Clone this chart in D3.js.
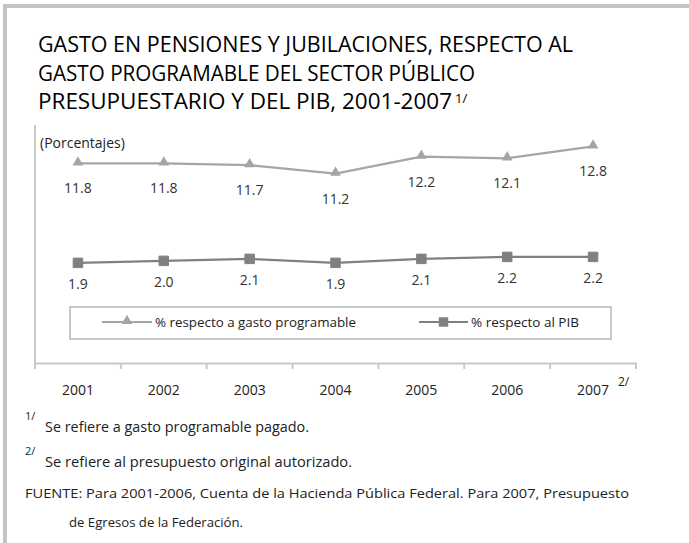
<!DOCTYPE html>
<html>
<head>
<meta charset="utf-8">
<script src="https://cdn.jsdelivr.net/npm/d3@7"></script>
<style>
  html, body { margin: 0; padding: 0; background: #fff; }
  svg { display: block; font-family: 'Open Sans', 'Noto Sans', sans-serif; }
</style>
</head>
<body>
<svg id="chart" width="689" height="543"></svg>
<script>
const years = ['2001', '2002', '2003', '2004', '2005', '2006', '2007'];
const gastoProgramable = [11.8, 11.8, 11.7, 11.2, 12.2, 12.1, 12.8];
const respectoPib = [1.9, 2.0, 2.1, 1.9, 2.1, 2.2, 2.2];
const seriesNames = ['% respecto a gasto programable', '% respecto al PIB'];

const titleLines = [
  'GASTO EN PENSIONES Y JUBILACIONES, RESPECTO AL',
  'GASTO PROGRAMABLE DEL SECTOR PÚBLICO',
  'PRESUPUESTARIO Y DEL PIB, 2001-2007'
];
const notes = [
  { mark: '1/', text: 'Se refiere a gasto programable pagado.' },
  { mark: '2/', text: 'Se refiere al presupuesto original autorizado.' }
];
const source = [
  'FUENTE: Para 2001-2006, Cuenta de la Hacienda Pública Federal. Para 2007, Presupuesto',
  'de Egresos de la Federación.'
];

const svg = d3.select('#chart');

// frame: grey rule on top and left
svg.append('rect').attr('x', 3).attr('y', 4).attr('width', 686).attr('height', 4).attr('fill', '#c3c3c3');
svg.append('rect').attr('x', 3).attr('y', 4).attr('width', 4).attr('height', 539).attr('fill', '#c3c3c3');

// title (condensed face in the original, so squeeze each line to its width)
const titleWidths = [535, 437, 414];
svg.append('g').selectAll('text')
  .data(titleLines)
  .join('text')
  .attr('x', 38)
  .attr('y', (d, i) => 52 + i * 28.7)
  .attr('textLength', (d, i) => titleWidths[i])
  .attr('lengthAdjust', 'spacingAndGlyphs')
  .style('font-size', '21px')
  .style('fill', '#000')
  .text(d => d);
svg.append('text')
  .attr('x', 38 + titleWidths[2] + 3)
  .attr('y', 103)
  .style('font-size', '13px')
  .style('fill', '#000')
  .text('1/');

// scales: the two series sit on separate value axes
const x = d3.scaleBand().domain(years).range([35, 636]);
const cx = d => x(d) + x.bandwidth() / 2;
const yLeft = d3.scaleLinear().domain([0, 14]).range([364, 126]);
const yRight = d3.scaleLinear().domain([-3.2, 8.8]).range([364, 126]);

const axisColor = '#c8c8c8';

// axes
svg.append('line')
  .attr('x1', 35).attr('x2', 35).attr('y1', 125).attr('y2', 364)
  .attr('stroke', axisColor).attr('stroke-width', 2);

const xAxis = svg.append('g')
  .attr('transform', 'translate(0,363)')
  .call(d3.axisBottom(x).tickSize(0).tickFormat(''));
xAxis.select('.domain').attr('stroke', axisColor).attr('stroke-width', 2);
xAxis.selectAll('.tick').remove();
const edges = years.map(d => x(d)).concat([x.range()[1]]);
xAxis.selectAll('line.bnd')
  .data(edges)
  .join('line')
  .attr('class', 'bnd')
  .attr('x1', d => d).attr('x2', d => d)
  .attr('y1', 0).attr('y2', 6)
  .attr('stroke', axisColor).attr('stroke-width', 2);

svg.append('g').selectAll('text')
  .data(years)
  .join('text')
  .attr('x', d => cx(d))
  .attr('y', 395)
  .attr('text-anchor', 'middle')
  .style('font-size', '14px')
  .style('fill', '#222')
  .text(d => d);
svg.append('text')
  .attr('x', 618).attr('y', 386)
  .style('font-size', '12px').style('fill', '#222')
  .text('2/');

svg.append('text')
  .attr('x', 40).attr('y', 148)
  .style('font-size', '14px').style('fill', '#222')
  .text('(Porcentajes)');

// series
const triColor = '#a5a5a5';
const sqColor = '#808080';
const tri = d3.symbol().type(d3.symbolTriangle).size(50);
const sq = d3.symbol().type(d3.symbolSquare).size(90);

const gastoData = years.map((d, i) => ({ year: d, v: gastoProgramable[i] }));
const pibData = years.map((d, i) => ({ year: d, v: respectoPib[i] }));

svg.append('path')
  .datum(gastoData)
  .attr('fill', 'none').attr('stroke', triColor).attr('stroke-width', 2.2)
  .attr('d', d3.line().x(d => cx(d.year)).y(d => yLeft(d.v)));
svg.append('g').selectAll('path')
  .data(gastoData)
  .join('path')
  .attr('transform', d => `translate(${cx(d.year)},${yLeft(d.v) - 1})`)
  .attr('d', tri)
  .attr('fill', triColor);
svg.append('g').selectAll('text')
  .data(gastoData)
  .join('text')
  .attr('x', d => cx(d.year))
  .attr('y', d => yLeft(d.v) + 30)
  .attr('text-anchor', 'middle')
  .style('font-size', '14px')
  .style('fill', '#333')
  .text(d => d.v.toFixed(1));

svg.append('path')
  .datum(pibData)
  .attr('fill', 'none').attr('stroke', sqColor).attr('stroke-width', 2.2)
  .attr('d', d3.line().x(d => cx(d.year)).y(d => yRight(d.v)));
svg.append('g').selectAll('path')
  .data(pibData)
  .join('path')
  .attr('transform', d => `translate(${cx(d.year)},${yRight(d.v)})`)
  .attr('d', sq)
  .attr('fill', sqColor)
  .attr('stroke', sqColor).attr('stroke-width', 1).attr('stroke-linejoin', 'round');
svg.append('g').selectAll('text')
  .data(pibData)
  .join('text')
  .attr('x', d => cx(d.year))
  .attr('y', d => yRight(d.v) + 26)
  .attr('text-anchor', 'middle')
  .style('font-size', '14px')
  .style('fill', '#333')
  .text(d => d.v.toFixed(1));

// legend
svg.append('rect')
  .attr('x', 70).attr('y', 307).attr('width', 541).attr('height', 32)
  .attr('fill', '#fff').attr('stroke', axisColor).attr('stroke-width', 2);
const legendItems = [
  { name: seriesNames[0], x0: 102, x1: 152, w: 201, color: triColor, sym: tri, dy: -1 },
  { name: seriesNames[1], x0: 419, x1: 468, w: 108, color: sqColor, sym: sq, dy: 0 }
];
const leg = svg.append('g').selectAll('g')
  .data(legendItems)
  .join('g');
leg.append('line')
  .attr('x1', d => d.x0).attr('x2', d => d.x1)
  .attr('y1', 322).attr('y2', 322)
  .attr('stroke', d => d.color).attr('stroke-width', 2.2);
leg.append('path')
  .attr('transform', d => `translate(${(d.x0 + d.x1) / 2},${322 + d.dy})`)
  .attr('d', d => d.sym())
  .attr('fill', d => d.color);
leg.append('text')
  .attr('x', d => d.x1 + 3)
  .attr('y', 327)
  .attr('textLength', d => d.w)
  .attr('lengthAdjust', 'spacingAndGlyphs')
  .style('font-size', '13px')
  .style('fill', '#222')
  .text(d => d.name);

// notes
const noteWidths = [264, 307];
const notesG = svg.append('g');
notes.forEach((n, i) => {
  const base = 432 + i * 35;
  notesG.append('text')
    .attr('x', 25).attr('y', base - 12)
    .style('font-size', '11px').style('fill', '#222')
    .text(n.mark);
  notesG.append('text')
    .attr('x', 45).attr('y', base)
    .attr('textLength', noteWidths[i])
    .attr('lengthAdjust', 'spacingAndGlyphs')
    .style('font-size', '14px').style('fill', '#222')
    .text(n.text);
});
notesG.append('text')
  .attr('x', 25).attr('y', 498)
  .attr('textLength', 604).attr('lengthAdjust', 'spacingAndGlyphs')
  .style('font-size', '13.5px').style('fill', '#222')
  .text(source[0]);
notesG.append('text')
  .attr('x', 69).attr('y', 527)
  .attr('textLength', 174).attr('lengthAdjust', 'spacingAndGlyphs')
  .style('font-size', '13.5px').style('fill', '#222')
  .text(source[1]);
</script>
</body>
</html>
